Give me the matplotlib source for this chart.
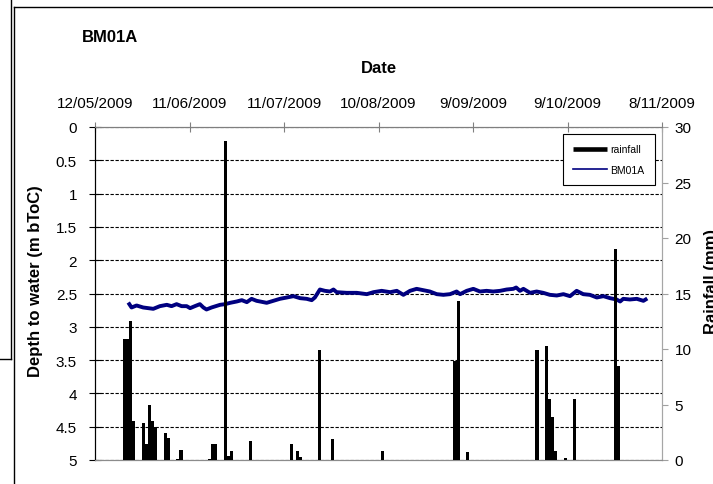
import numpy as np
import matplotlib
matplotlib.use("Agg")
import matplotlib.pyplot as plt
from matplotlib.lines import Line2D

plt.rcParams['font.family'] = ['Liberation Sans', 'DejaVu Sans']

W, H = 713, 485

# top axis: dates every 30 days, starting 12/05/2009
date_labels = ['12/05/2009', '11/06/2009', '11/07/2009', '10/08/2009',
               '9/09/2009', '9/10/2009', '8/11/2009']

# daily rainfall (day offset from 12/05/2009, mm)
rain_day = [9, 10, 11, 12, 15, 16, 17, 18, 19, 22, 23, 26, 27, 36, 37, 38,
            41, 42, 43, 49, 62, 64, 65, 71, 75, 91, 114, 115, 118, 140, 143,
            144, 145, 146, 149, 152, 165, 166]
rain_mm = [10.9, 10.9, 12.5, 3.5, 3.3, 1.4, 5.0, 3.5, 3.0, 2.4, 2.0, 0.1, 0.9,
           0.1, 1.4, 1.4, 28.7, 0.4, 0.85, 1.75, 1.45, 0.85, 0.3, 9.9, 1.9,
           0.85, 8.9, 14.3, 0.7, 9.9, 10.3, 5.5, 3.85, 0.85, 0.15, 5.5, 19.0,
           8.5]

# BM01A depth to water (m bToC)
level_day = [10.9, 11.6, 13.2, 15.3, 18.5, 20.6, 22.8, 24.3, 25.9, 27.5,
             29.1, 30.2, 31.7, 33.3, 34.4, 35.4, 37.0, 39.7, 41.3, 42.9,
             45.0, 46.6, 48.2, 49.7, 51.3, 52.4, 54.5, 56.6, 58.7, 60.9,
             63.0, 65.1, 67.2, 68.8, 69.8, 71.4, 73.0, 74.6, 75.7, 76.7,
             79.9, 83.1, 86.3, 88.4, 91.0, 93.7, 95.8, 97.9, 100.0, 102.1,
             104.2, 106.3, 108.5, 110.6, 112.7, 114.8, 115.9, 118.0, 120.1, 122.2,
             124.3, 126.4, 128.6, 130.7, 132.8, 133.7, 134.9, 136.0, 138.1, 140.2,
             142.3, 144.4, 146.6, 148.7, 150.8, 152.9, 155.0, 157.1, 159.3, 161.4,
             163.5, 165.6, 166.7, 167.7, 169.8, 172.0, 174.1, 174.8]
level_depth = [2.66, 2.71, 2.68, 2.71, 2.73, 2.69, 2.67, 2.69, 2.66, 2.69,
               2.69, 2.72, 2.69, 2.66, 2.71, 2.74, 2.71, 2.67, 2.66, 2.64,
               2.62, 2.60, 2.63, 2.58, 2.61, 2.62, 2.64, 2.61, 2.58, 2.56,
               2.54, 2.57, 2.58, 2.60, 2.56, 2.44, 2.46, 2.47, 2.44, 2.48,
               2.49, 2.49, 2.51, 2.48, 2.46, 2.48, 2.46, 2.52, 2.46, 2.43,
               2.45, 2.47, 2.51, 2.52, 2.51, 2.47, 2.51, 2.46, 2.43, 2.47,
               2.46, 2.47, 2.46, 2.44, 2.43, 2.41, 2.46, 2.43, 2.49, 2.47,
               2.49, 2.52, 2.53, 2.51, 2.54, 2.46, 2.51, 2.52, 2.56, 2.54,
               2.57, 2.59, 2.62, 2.58, 2.59, 2.58, 2.61, 2.59]


def fx(px):
    return px / W


def fy(py):
    return 1 - py / H


fig = plt.figure(figsize=(W / 100, H / 100), dpi=100)
ax = fig.add_axes([fx(95), fy(461), fx(662) - fx(95), fy(128) - fy(461)])
ax2 = ax.twinx()

# water level line (left axis, inverted)
ax.plot(level_day, level_depth, color='#000080', lw=2.8, zorder=3,
        solid_joinstyle='round')
ax.set_xlim(0, 180)
ax.set_ylim(5, 0)
ax.set_yticks(np.arange(0, 5.01, 0.5))
ax.set_yticklabels(['%g' % v for v in np.arange(0, 5.01, 0.5)])
ax.yaxis.grid(True, color='black', linestyle=(0, (3, 1.5)), lw=0.8)
ax.set_axisbelow(True)

ax.xaxis.tick_top()
ax.set_xticks(np.arange(0, 181, 30))
ax.set_xticklabels(date_labels)
ax.xaxis.set_label_position('top')
ax.set_xlabel('Date', fontsize=12, fontweight='bold', labelpad=17)
ax.tick_params(axis='x', direction='inout', length=7, color='#808080',
               labelsize=11, pad=9)
ax.tick_params(axis='y', direction='inout', length=8, color='black',
               labelsize=11, pad=9)

# rainfall bars (right axis)
ax2.bar(np.array(rain_day) - 0.2, rain_mm, width=1.0, align='edge',
        color='black', lw=0, zorder=4)
ax2.set_ylim(0, 30)
ax2.set_yticks(np.arange(0, 31, 5))
ax2.tick_params(axis='y', direction='out', length=4, color='#a0a0a0',
                labelsize=11, pad=5)

for a in (ax, ax2):
    a.spines['left'].set_color('black')
    a.spines['top'].set_color('#7f7f7f')
    a.spines['bottom'].set_color('#8c8c8c')
    a.spines['right'].set_color('#a6a6a6')

fig.text(fx(82), fy(37), 'BM01A', fontsize=12, fontweight='bold',
         ha='left', va='center')
fig.text(fx(36), fy(281), 'Depth to water (m bToC)', fontsize=12,
         fontweight='bold', rotation=90, ha='center', va='center')
# the reference crops this label at the right edge of the picture
fig.text(fx(704), fy(282), 'Rainfall (mm)', fontsize=12, fontweight='bold',
         rotation=90, ha='left', va='center')

handles = [Line2D([], [], color='black', lw=3.3, solid_capstyle='butt'),
           Line2D([], [], color='#000080', lw=1.2)]
leg = fig.legend(handles, ['rainfall', 'BM01A'], loc='upper right',
                 bbox_to_anchor=(fx(655), fy(135)), bbox_transform=fig.transFigure,
                 fontsize=7.5, frameon=True, fancybox=False, edgecolor='black',
                 framealpha=1, handlelength=3.3, handletextpad=0.3,
                 borderpad=1.0, labelspacing=1.0, borderaxespad=0)
leg.get_frame().set_linewidth(0.8)

# bits of the surrounding page frame
for xs, ys in [((11, 11), (0, 360)), ((0, 11), (360, 360)),
               ((14, 14), (8, 485)), ((14, 713), (8, 8))]:
    fig.add_artist(Line2D([fx(x) for x in xs], [fy(y) for y in ys],
                          color='black', lw=1, transform=fig.transFigure))

fig.savefig('out.png', dpi=100)
